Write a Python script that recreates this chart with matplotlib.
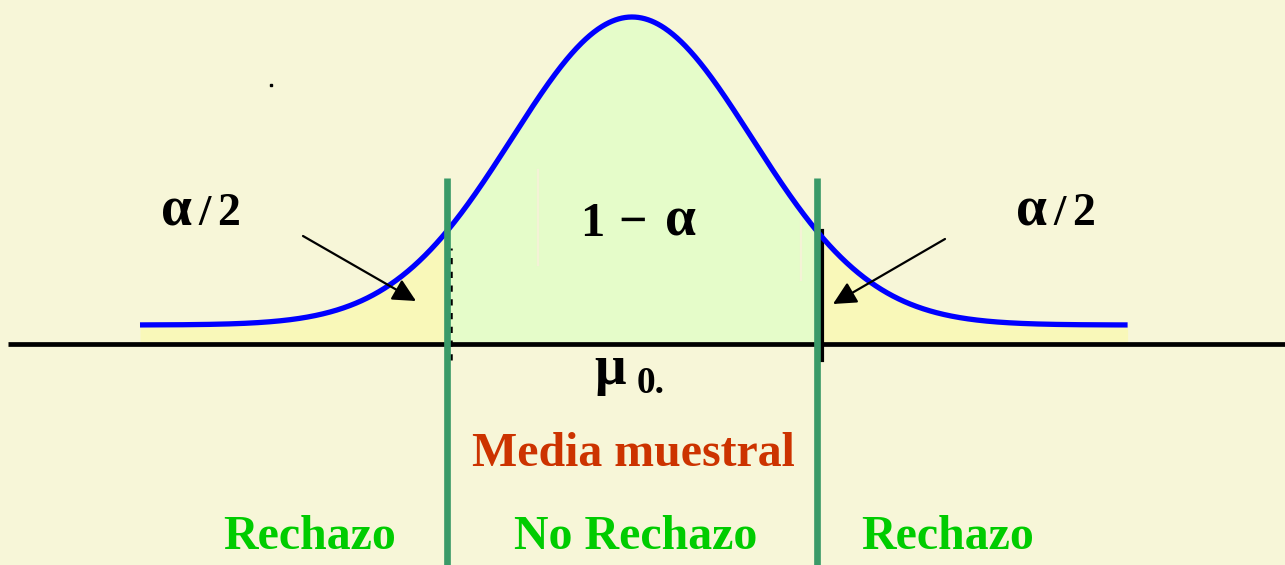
import numpy as np
import matplotlib
matplotlib.use("Agg")
import matplotlib.pyplot as plt
from matplotlib.patches import FancyArrowPatch

# Two-sided test of the mean: sampling distribution of the sample mean
z_crit = 1.54                  # cutoff of the acceptance region (in sigma units)
z_left, z_right = -4.1, 4.13   # drawn extent of the density curve
curve_floor = 19               # height of the curve's tails above the axis line
curve_peak = 308               # height of the density at the mean above the tails

region_labels = ["Rechazo", "No Rechazo", "Rechazo"]
axis_label = "Media muestral"

BG = "#F7F6D8"
TAIL_FILL = "#F9F8B9"
CENTER_FILL = "#E5FCC9"
CURVE = "#0000FF"
CUT = "#3A9A68"
GREEN_TXT = "#00CC00"
RED_TXT = "#CC3300"

W, H = 1285, 565
fig = plt.figure(figsize=(W / 100, H / 100), dpi=100, facecolor=BG)
ax = fig.add_axes([0, 0, 1, 1])
ax.set_facecolor(BG)

# horizontal scale: sigma units, 120 px per sigma, mean at px 632
PX_PER_SIGMA = 120.0
X0 = 632.0
AXIS_PY = 344.0
ax.set_xlim((0 - X0) / PX_PER_SIGMA, (W - X0) / PX_PER_SIGMA)
ax.set_ylim(-(H - AXIS_PY), AXIS_PY)
ax.axis("off")


def px(x, y):
    """pixel position -> data position"""
    return (x - X0) / PX_PER_SIGMA, AXIS_PY - y


def density(z):
    return curve_floor + curve_peak * np.exp(-0.5 * z ** 2)


z = np.linspace(z_left, z_right, 1200)
y = density(z)

left = z <= -z_crit
mid = (z >= -z_crit) & (z <= z_crit)
right = z >= z_crit
ax.fill_between(z[left], 0, y[left], color=TAIL_FILL, lw=0, zorder=1)
ax.fill_between(z[right], 0, y[right], color=TAIL_FILL, lw=0, zorder=1)
ax.fill_between(z[mid], 0, y[mid], color=CENTER_FILL, lw=0, zorder=1)

ax.plot(z, y, color=CURVE, lw=3.8, solid_capstyle="butt", zorder=4)

# horizontal axis line
xa0, _ = px(8, 0)
ax.plot([xa0, ax.get_xlim()[1]], [0, 0], color="black", lw=3.4,
        solid_capstyle="butt", zorder=3)

# short black edges of the tail regions
ax.plot([z_crit + 0.045, z_crit + 0.045], [px(0, 360)[1], density(z_crit)],
        color="black", lw=3.0, zorder=3)
ax.plot([-z_crit + 0.03, -z_crit + 0.03], [px(0, 360)[1], px(0, 248)[1]],
        color="black", lw=1.8, ls=(0, (2.5, 3)), zorder=3)

# vertical cutoff lines
top = px(0, 178)[1]
bottom = ax.get_ylim()[0]
for zc in (-z_crit, z_crit):
    ax.plot([zc, zc], [bottom, top], color=CUT, lw=4.8,
            solid_capstyle="butt", zorder=5)

# faint light strokes inside the acceptance region
ax.plot([px(538, 0)[0]] * 2, [px(0, 170)[1], px(0, 265)[1]],
        color="#F4F2D6", lw=1.6, zorder=2)
ax.plot([px(801, 0)[0]] * 2, [px(0, 213)[1], px(0, 280)[1]],
        color="#F4F2D6", lw=1.6, zorder=2)

# arrows to the tail areas
for tail, tip in (((303, 236), (416, 301)), ((945, 239), (833, 304))):
    arr = FancyArrowPatch(px(*tail), px(*tip), arrowstyle="-|>,head_length=14,head_width=7",
                          mutation_scale=1, color="black", lw=1.6, zorder=6,
                          shrinkA=0, shrinkB=0)
    ax.add_patch(arr)

# stray dot
ax.plot(*px(271, 85), marker="s", ms=1.5, color="black", zorder=6)

serif = ["Liberation Serif", "DejaVu Serif"]


def put(x, y, s, size, weight="bold", color="black", va="center"):
    ax.text(*px(x, y), s, fontsize=size, fontweight=weight, family=serif,
            color=color, ha="center", va=va, zorder=7)


# alpha/2 labels for the two tails
for dx in (0, 855):
    put(176 + dx, 225, "α", 40, va="baseline")
    put(205 + dx, 225, "/", 32, va="baseline")
    put(229 + dx, 225, "2", 33, va="baseline")

# 1 - alpha label for the acceptance region
put(592, 236, "1", 35, va="baseline")
put(633, 236, "−", 36, va="baseline")
put(680, 236, "α", 40, va="baseline")

# mean under the null hypothesis
put(610, 384, "μ", 40, va="baseline")
put(651, 393, "0.", 27, va="baseline")

put(633, 454, axis_label, 34.5, color=RED_TXT)

for cx, lab in zip((310, 636, 948), region_labels):
    put(cx, 537, lab, 34.5, color=GREEN_TXT)

fig.savefig("out.png", dpi=100, facecolor=BG)
